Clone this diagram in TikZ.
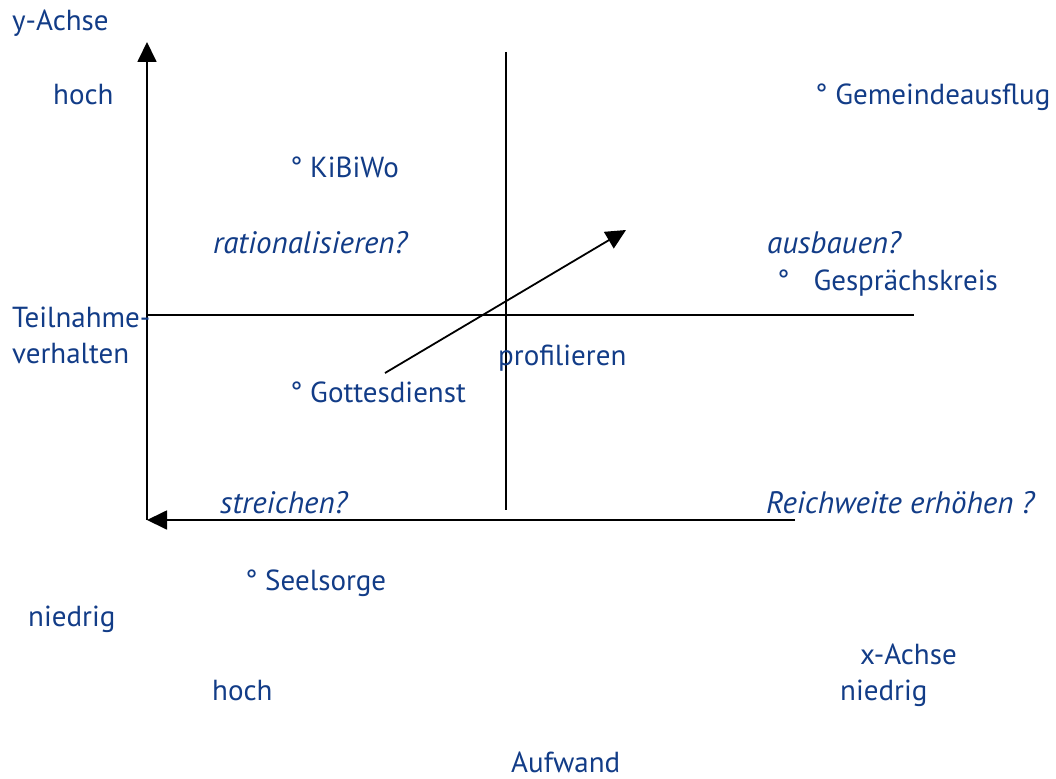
\documentclass[tikz,border=0pt]{standalone}
\usepackage{fontspec}
\setmainfont{PT Sans}
\usetikzlibrary{arrows.meta}
\definecolor{textblue}{RGB}{18,60,135}

\begin{document}
\begin{tikzpicture}[x=1pt,y=-1pt,
    label/.style ={anchor=base west, inner sep=0pt, text=textblue, font=\fontsize{29}{34}\selectfont},
    question/.style ={label, font=\fontsize{31}{36}\selectfont\itshape},
    axis/.style ={line width=1.8pt, -{Triangle[length=20pt,width=19pt]}},
    divider/.style ={line width=1.8pt}]
   \useasboundingbox (0,0) rectangle (1056,778);

   % axes and quadrant lines
   \coordinate (O)  at (147,520);
   \coordinate (Ytop)  at (147,42);
   \coordinate (Xstart)  at (795,520);
   \coordinate (Hleft)  at (147,315);
   \coordinate (Hright)  at (914,315);
   \coordinate (Vtop)  at (506,52);
   \coordinate (Vbottom)  at (506,510);
   \coordinate (Dstart)  at (385,373);
   \coordinate (Dend)  at (626,230);

   \draw[axis] (O) to (Ytop);
   \draw[axis] (Xstart) to (O);
   \draw[divider] (Hleft) to (Hright);
   \draw[divider] (Vtop) to (Vbottom);
   \draw[axis] (Dstart) to (Dend);

   % axis labels
   \node[label] (yaxis)  at (12,31)  {y-Achse};
   \node[label] (yhigh)  at (53,105)  {hoch};
   \node[label] (ytitle1)  at (12,327)  {Teilnahme-};
   \node[label] (ytitle2)  at (12,363)  {verhalten};
   \node[label] (ylow)  at (28,626)  {niedrig};
   \node[label] (xaxis)  at (860,664)  {x-Achse};
   \node[label] (xhigh)  at (212,700)  {hoch};
   \node[label] (xlow)  at (840,700)  {niedrig};
   \node[label] (xtitle)  at (511,772)  {Aufwand};

   % items
   \node[label] (ausflug)  at (815,105)  {° Gemeindeausflug};
   \node[label] (kibiwo)  at (290,178)  {° KiBiWo};
   \node[label] (kreis)  at (777,290)  {°\hspace{24pt}Gesprächskreis};
   \node[label] (gottesdienst)  at (290,402)  {° Gottesdienst};
   \node[label] (seelsorge)  at (245,590)  {° Seelsorge};

   % quadrant texts
   \node[question] (rational)  at (213,253)  {rationalisieren?};
   \node[question] (ausbau)  at (767,253)  {ausbauen?};
   \node[label] (profil)  at (498,365)  {profilieren};
   \node[question] (streich)  at (220,513)  {streichen?};
   \node[question] (reich)  at (766,513)  {Reichweite erhöhen ?};
 \end{tikzpicture}
\end{document}
